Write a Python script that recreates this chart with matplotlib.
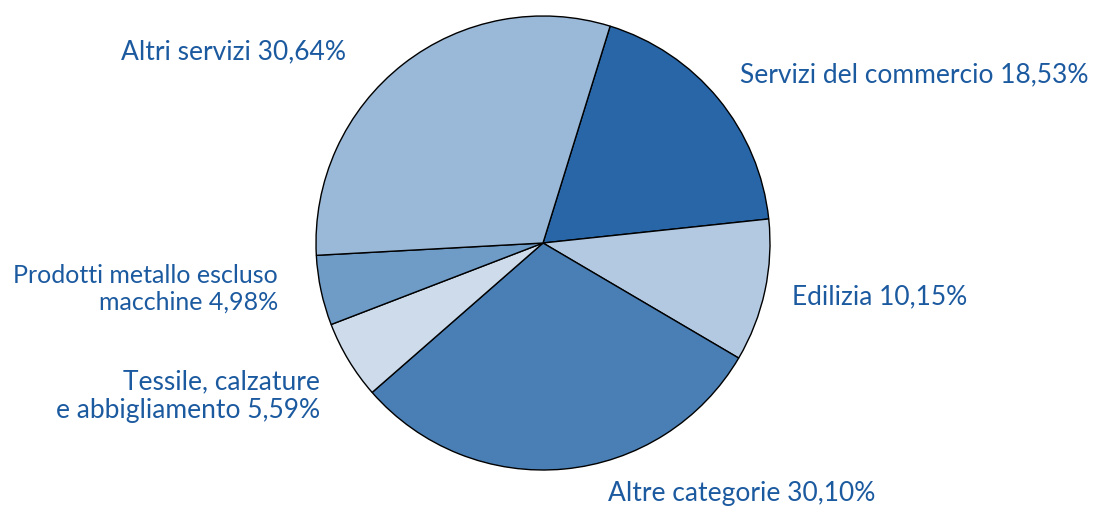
import matplotlib.pyplot as plt

# slice data, clockwise from the top
labels = ["Servizi del commercio 18,53%", "Edilizia 10,15%", "Altre categorie 30,10%",
          "Tessile, calzature\ne abbigliamento 5,59%",
          "Prodotti metallo escluso\nmacchine 4,98%", "Altri servizi 30,64%"]
shares = [18.53, 10.15, 30.10, 5.59, 4.98, 30.64]
colors = ["#2866a8", "#b3c9e1", "#4a7fb5", "#cddbeb", "#6f9bc7", "#9ab8d7"]

W, H = 1098, 507
fig = plt.figure(figsize=(W / 100, H / 100), dpi=100)
ax = fig.add_axes([0, 0, 1, 1])

cx, cy, r = 543, H - 243, 227
ax.pie(shares, colors=colors, startangle=72.8, counterclock=False,
       center=(cx, cy), radius=r, frame=True,
       wedgeprops=dict(edgecolor="black", linewidth=1.0))
ax.set_xlim(0, W)
ax.set_ylim(0, H)
ax.set_aspect("equal")
ax.axis("off")

txt = dict(color="#1c5aa0", family="Lato", va="center", linespacing=1.2)
# label anchors in pixel coords (x, y from top, alignment, size)
pos = [(740, 75, "left", 19), (792, 297, "left", 19), (608, 493, "left", 19),
       (320, 396, "right", 19), (278, 289, "right", 18), (346, 52, "right", 19)]
for lab, (x, y, ha, fs) in zip(labels, pos):
    ax.text(x, H - y, lab, ha=ha, multialignment="right", fontsize=fs, **txt)

fig.savefig("out.png", dpi=100)
